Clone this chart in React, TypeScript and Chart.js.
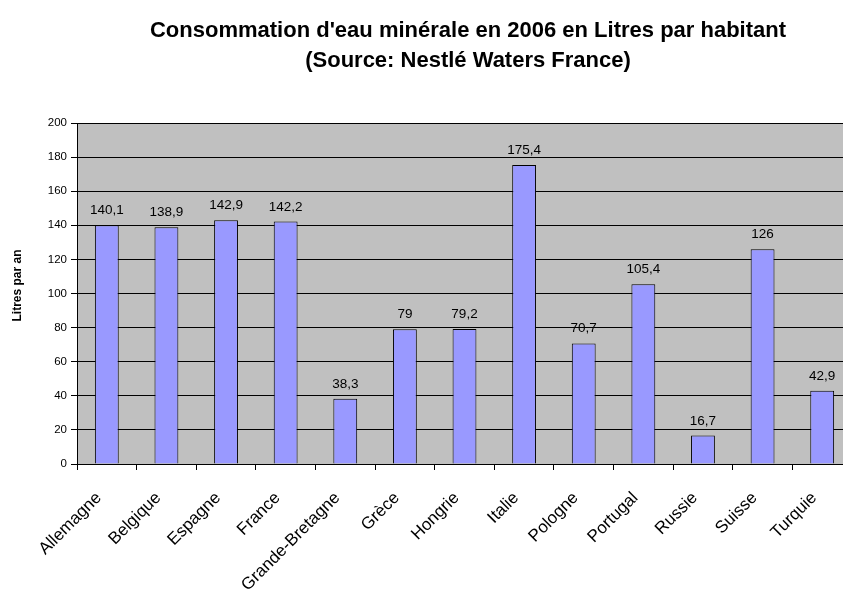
import React, { useEffect, useRef } from "react";
import { Chart, registerables } from "chart.js";

Chart.register(...registerables);

const categories = ["Allemagne", "Belgique", "Espagne", "France", "Grande-Bretagne", "Grèce", "Hongrie", "Italie", "Pologne", "Portugal", "Russie", "Suisse", "Turquie"];
const values = [140.1, 138.9, 142.9, 142.2, 38.3, 79, 79.2, 175.4, 70.7, 105.4, 16.7, 126, 42.9];
const titleLines = ["Consommation d'eau minérale en 2006 en Litres par habitant", "(Source: Nestlé Waters France)"];
const yTitle = "Litres par an";
const yMin = 0;
const yMax = 200;
const yStep = 20;

const FONT = "'Liberation Sans', Arial, sans-serif";

const plotBg = {
  id: "plotBg",
  beforeDraw(chart: any) {
    const { ctx, chartArea } = chart;
    ctx.save();
    ctx.fillStyle = "#C0C0C0";
    ctx.fillRect(chartArea.left, chartArea.top, chartArea.right - chartArea.left, chartArea.bottom - chartArea.top);
    ctx.restore();
  },
};

const titlePlugin = {
  id: "titleDraw",
  afterDraw(chart: any) {
    const { ctx, chartArea } = chart;
    ctx.save();
    ctx.fillStyle = "#000";
    ctx.font = `bold 22px ${FONT}`;
    ctx.textAlign = "center";
    ctx.textBaseline = "middle";
    titleLines.forEach((t, i) => ctx.fillText(t, 468, 31 + i * 30));
    // y axis title
    ctx.font = `bold 12px ${FONT}`;
    ctx.translate(17.5, (chartArea.top + chartArea.bottom) / 2 - 8);
    ctx.rotate(-Math.PI / 2);
    ctx.fillText(yTitle, 0, 0);
    ctx.restore();
  },
};

const valueLabels = {
  id: "valueLabels",
  afterDatasetsDraw(chart: any) {
    const { ctx } = chart;
    const meta = chart.getDatasetMeta(0);
    ctx.save();
    ctx.fillStyle = "#000";
    ctx.font = `13.5px ${FONT}`;
    ctx.textAlign = "center";
    ctx.textBaseline = "alphabetic";
    meta.data.forEach((bar: any, i: number) => {
      const v = values[i];
      ctx.fillText(String(v).replace(".", ","), bar.x, bar.y - 11);
    });
    ctx.restore();
  },
};

export default function App() {
  const ref = useRef<HTMLCanvasElement | null>(null);
  useEffect(() => {
    if (!ref.current) return;
    const chart = new Chart(ref.current, {
      type: "bar",
      data: {
        labels: categories,
        datasets: [
          {
            data: values,
            backgroundColor: "#9999FF",
            borderColor: "#000000",
            borderWidth: 1,
            categoryPercentage: 1,
            barPercentage: 0.4,
          },
        ],
      },
      options: {
        responsive: false,
        animation: false,
        layout: { padding: { top: 123, left: 0, right: 8, bottom: 0 } },
        plugins: {
          legend: { display: false },
          title: { display: false },
          tooltip: { enabled: false },
        },
        scales: {
          x: {
            afterFit: (s: any) => { s.height = 135; },
            grid: { display: true, drawOnChartArea: false, color: "#000", tickLength: 6, offset: true },
            border: { color: "#000" },
            ticks: {
              autoSkip: false,
              maxRotation: 45,
              minRotation: 45,
              padding: 18,
              labelOffset: -8,
              color: "#000",
              font: { family: FONT, size: 17 },
            },
          },
          y: {
            min: yMin,
            max: yMax,
            afterFit: (s: any) => { s.width = 77; },
            grid: { color: "#000", tickLength: 6 },
            border: { color: "#000" },
            ticks: {
              stepSize: yStep,
              padding: 4,
              color: "#000",
              font: { family: FONT, size: 11.5 },
            },
          },
        },
      },
      plugins: [plotBg, valueLabels, titlePlugin],
    });
    return () => chart.destroy();
  }, []);
  return (
    <div style={{ position: "fixed", left: 0, top: 0, width: 843, height: 599, overflow: "hidden", background: "#fff" }}>
      <canvas ref={ref} width={860} height={599} style={{ display: "block" }} />
    </div>
  );
}
